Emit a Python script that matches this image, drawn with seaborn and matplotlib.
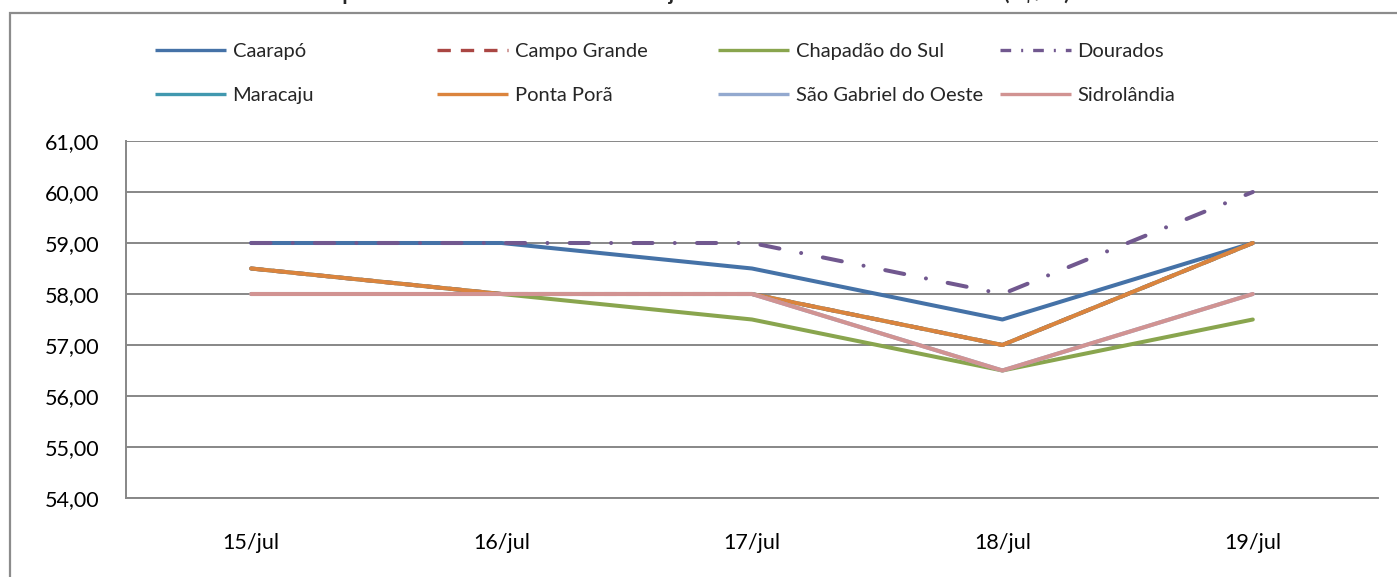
import matplotlib
matplotlib.use("Agg")
import matplotlib.pyplot as plt
import seaborn as sns
import pandas as pd
from matplotlib.lines import Line2D
from matplotlib.patches import Rectangle
from matplotlib.ticker import FixedLocator, FuncFormatter

# ---------------- data ----------------
dates = ["15/jul", "16/jul", "17/jul", "18/jul", "19/jul"]
caarapo = [59.0, 59.0, 58.5, 57.5, 59.0]
campo_grande = [58.5, 58.0, 58.0, 57.0, 59.0]
chapadao = [58.0, 58.0, 57.5, 56.5, 57.5]
dourados = [59.0, 59.0, 59.0, 58.0, 60.0]
maracaju = [58.5, 58.0, 58.0, 57.0, 59.0]
ponta_pora = [58.5, 58.0, 58.0, 57.0, 59.0]
sao_gabriel = [58.0, 58.0, 58.0, 56.5, 58.0]
sidrolandia = [58.0, 58.0, 58.0, 56.5, 58.0]

series_names = ["Caarapó", "Campo Grande", "Chapadão do Sul", "Dourados",
                "Maracaju", "Ponta Porã", "São Gabriel do Oeste", "Sidrolândia"]
series_values = [caarapo, campo_grande, chapadao, dourados,
                 maracaju, ponta_pora, sao_gabriel, sidrolandia]
colors = ["#4572A7", "#AA4643", "#89A54E", "#71588F",
          "#4198AF", "#DB843D", "#93A9CF", "#D19392"]
title = "Comportamento semanal do valor da soja no Estado de Mato Grosso do Sul (R$/sc)"
y_ticks = [54, 55, 56, 57, 58, 59, 60, 61]

# ---------------- style ----------------
sns.set_style("white")
plt.rcParams["font.family"] = ["Lato", "DejaVu Sans"]

W, H = 1397, 577
fig = plt.figure(figsize=(W / 100, H / 100), dpi=100)
ax = fig.add_axes([126 / W, 1 - 498 / H, (1378 - 126) / W, (498 - 141) / H])

rows = []
for name, vals in zip(series_names, series_values):
    for i, v in enumerate(vals):
        rows.append({"serie": name, "x": i, "valor": v})
df = pd.DataFrame(rows)

lw = 2.9
line_dash = {
    "Campo Grande": (3.0, 2.5),
    "Dourados": (4.8, 5.5, 0.01, 5.5),
}
legend_dash = {
    "Campo Grande": (4.0, 3.0),
    "Dourados": (3.2, 3.0, 0.6, 3.0),
}
handles = []
for k, (name, col) in enumerate(zip(series_names, colors)):
    sub = df[df["serie"] == name]
    sns.lineplot(data=sub, x="x", y="valor", ax=ax, color=col, linewidth=lw,
                 legend=False, zorder=3 + k, sort=False)
    line = ax.get_lines()[-1]
    line.set_solid_capstyle("round")
    if name in line_dash:
        line.set_dashes(line_dash[name])
        line.set_dash_capstyle("round")
    h = Line2D([], [], color=col, linewidth=2.4, solid_capstyle="butt")
    if name in legend_dash:
        h.set_dashes(legend_dash[name])
        h.set_dash_capstyle("butt")
    handles.append(h)

grid_col = "#878787"
ax.set_xlim(-0.5, len(dates) - 0.5)
ax.set_ylim(54, 61)
ax.yaxis.set_major_locator(FixedLocator(y_ticks))
ax.yaxis.set_major_formatter(FuncFormatter(lambda v, p: f"{v:.2f}".replace(".", ",")))
ax.set_xticks(range(len(dates)))
ax.set_xticklabels(dates)
ax.xaxis.set_minor_locator(FixedLocator([i - 0.5 for i in range(len(dates) + 1)]))
ax.tick_params(axis="x", which="major", length=0, pad=25, labelsize=15.5, colors="black")
ax.tick_params(axis="x", which="minor", length=6, width=1.3, color=grid_col, direction="out")
ax.tick_params(axis="y", which="major", length=6, width=1.3, color=grid_col,
               direction="out", pad=13, labelsize=15.5, labelcolor="black")
ax.set_xlabel("")
ax.set_ylabel("")
ax.grid(axis="y", color=grid_col, linewidth=1.4)
ax.grid(axis="x", visible=False)
for s in ["top", "right"]:
    ax.spines[s].set_visible(False)
for s in ["left", "bottom"]:
    ax.spines[s].set_color(grid_col)
    ax.spines[s].set_linewidth(1.4)
    ax.spines[s].set_zorder(2)

# legend: 4 fixed-width columns, 2 rows
col_x = [155, 437, 718, 1000]
for c in range(4):
    hs = [handles[c], handles[c + 4]]
    ls = [series_names[c], series_names[c + 4]]
    fig.legend(hs, ls, loc="upper left",
               bbox_to_anchor=(col_x[c] / W, 1 - 43 / H),
               frameon=False, fontsize=14.5, handlelength=3.55,
               handletextpad=0.3, labelspacing=1.33, borderpad=0,
               borderaxespad=0)

# outer chart frame (cropped on right and bottom)
fig.patches.append(Rectangle((10 / W, -0.05), 1.2, 1.05 - 13 / H,
                             transform=fig.transFigure, fill=False,
                             edgecolor="#8c8c8c", linewidth=1.6))

# title (cropped at the top of the image, as in the reference)
fig.text(0.49, 1 + 0.5 / H, title, ha="center", va="baseline",
         fontsize=15, fontweight="bold")

fig.savefig("out.png", dpi=100)
